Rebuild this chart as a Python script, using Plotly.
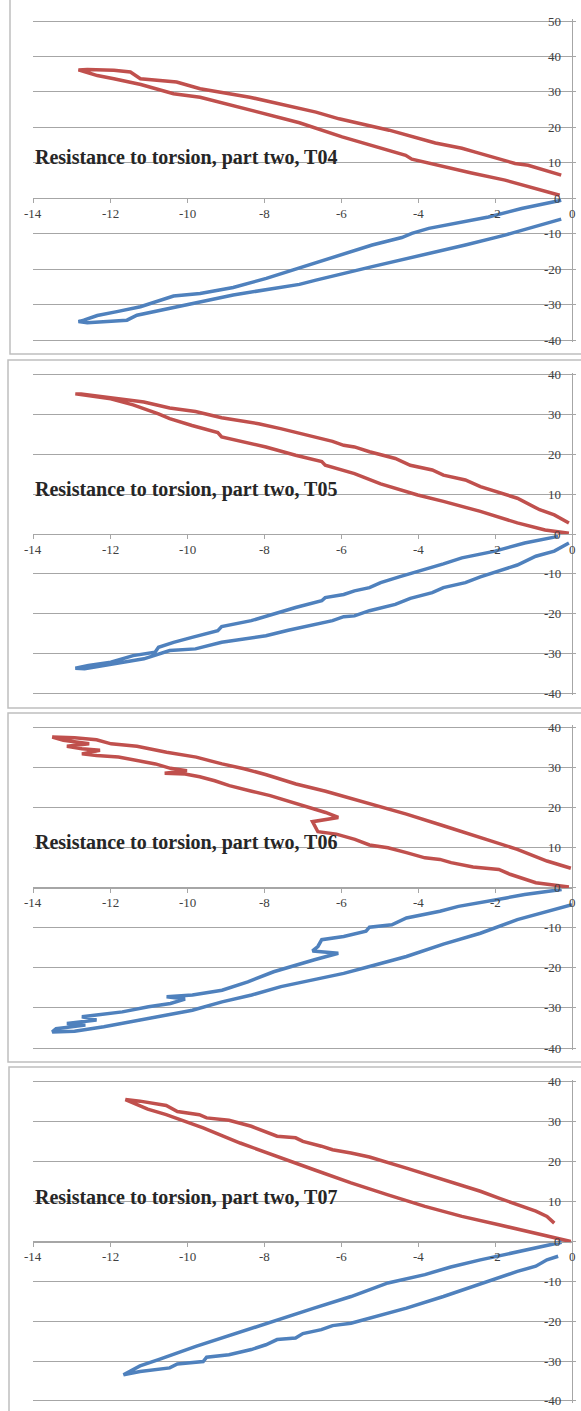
import plotly.graph_objects as go

W, H = 581, 1411

# ---------------- data ----------------
titles = ["Resistance to torsion, part two, T04",
          "Resistance to torsion, part two, T05",
          "Resistance to torsion, part two, T06",
          "Resistance to torsion, part two, T07"]

x_tick_vals = [-14, -12, -10, -8, -6, -4, -2, 0]
x_tick_text = ["-14", "-12", "-10", "-8", "-6", "-4", "-2", "0"]
y_tick_vals_50 = [-40, -30, -20, -10, 0, 10, 20, 30, 40, 50]
y_tick_text_50 = ["-40", "-30", "-20", "-10", "0", "10", "20", "30", "40", "50"]
y_tick_vals_40 = [-40, -30, -20, -10, 0, 10, 20, 30, 40]
y_tick_text_40 = ["-40", "-30", "-20", "-10", "0", "10", "20", "30", "40"]

# T04
t04_red_x = [-0.32, -0.88, -1.74, -2.61, -3.46, -4.16, -4.32, -5.97, -7.08, -8.37, -9.23, -9.66,
             -10.35, -11.2, -11.9, -12.33, -12.63, -12.82,
             -12.59, -11.9, -11.47, -11.21, -10.27, -9.66, -8.37, -7.08, -6.65, -6.05, -5.27,
             -4.75, -3.55, -2.86, -2.51, -1.48, -1.14, -0.28]
t04_red_y = [0.85, 2.5, 5.1, 7.1, 9.3, 11.0, 12.1, 17.3, 21.3, 24.8, 27.1, 28.5,
             29.5, 32.1, 33.7, 34.6, 35.6, 36.2,
             36.3, 36.1, 35.6, 33.7, 32.8, 30.9, 28.5, 25.5, 24.3, 22.4, 20.6,
             19.2, 15.6, 14.1, 13.0, 9.8, 9.3, 6.5]
t04_blue_x = [-0.28, -1.31, -2.17, -3.03, -3.72, -4.16, -4.42, -5.19, -6.05, -6.91, -7.94, -8.80,
              -9.66, -10.35, -10.96, -11.21, -11.82, -12.33, -12.68, -12.82,
              -12.59, -11.56, -11.30, -10.18, -8.80, -7.08, -6.65, -5.19, -3.89, -2.77, -1.74,
              -1.14, -0.28]
t04_blue_y = [-0.56, -2.9, -5.3, -7.1, -8.5, -9.9, -11.1, -13.2, -16.1, -18.9, -22.6, -25.2,
              -26.9, -27.6, -29.7, -30.6, -32.0, -33.1, -34.4, -34.8,
              -35.1, -34.4, -33.0, -30.4, -27.3, -24.3, -23.1, -19.3, -16.1, -13.2, -10.4,
              -8.5, -5.9]

# T05
t05_red_x = [-0.08, -0.7, -1.42, -2.38, -3.34, -4.01, -4.97, -5.65, -6.41, -6.5, -7.18, -7.95,
             -9.1, -9.2, -9.87, -10.45, -10.74, -11.22, -11.4, -11.98, -12.75, -12.9,
             -12.75, -11.89, -11.12, -10.45, -9.78, -9.1, -8.14, -7.57, -6.7, -6.22, -5.93,
             -5.65, -5.26, -4.59, -4.2, -3.63, -3.34, -2.77, -2.38, -1.42, -0.84, -0.46, -0.08]
t05_red_y = [0.2, 1.0, 2.8, 5.7, 8.2, 9.8, 12.6, 15.2, 17.3, 18.2, 19.8, 21.9,
             24.4, 25.5, 27.3, 29.0, 30.2, 31.9, 32.5, 34.0, 35.0, 35.25,
             35.25, 34.2, 33.2, 31.7, 30.8, 29.25, 27.75, 26.5, 24.4, 23.3, 22.3,
             21.9, 20.7, 19.0, 17.3, 16.1, 14.8, 13.6, 11.9, 9.0, 6.1, 4.8, 2.75]
t05_blue_x = [-0.36, -1.23, -2.0, -2.86, -3.34, -4.01, -4.49, -4.97, -5.26, -5.65, -5.93, -6.41,
              -6.5, -7.18, -7.95, -8.33, -9.1, -9.2, -9.87, -10.35, -10.74, -10.83, -11.4,
              -11.98, -12.56, -12.9,
              -12.66, -11.89, -11.12, -10.45, -9.78, -9.1, -7.95, -7.37, -6.7, -6.22, -5.93,
              -5.65, -5.26, -4.59, -4.2, -3.63, -3.34, -2.77, -2.38, -1.42, -0.94, -0.46, -0.08]
t05_blue_y = [-0.6, -2.25, -4.3, -6.0, -7.5, -9.3, -10.8, -12.25, -13.5, -14.3, -15.2, -16.0,
              -16.8, -18.5, -20.6, -21.8, -23.3, -24.3, -26.0, -27.25, -28.5, -29.75, -30.6,
              -32.25, -33.1, -33.75,
              -33.9, -32.6, -31.4, -29.3, -28.9, -27.25, -25.6, -24.2, -22.7, -21.8, -20.8,
              -20.6, -19.3, -17.7, -16.2, -14.75, -13.5, -12.25, -10.8, -7.8, -5.6, -4.3, -2.25]

# T06
t06_red_x = [-0.08, -0.94, -1.61, -1.9, -2.57, -3.14, -3.43, -3.82, -4.3, -4.78, -5.26, -5.64,
             -6.12, -6.6, -6.74, -6.07, -6.4, -6.98, -7.36, -7.84, -8.32, -8.9, -9.28, -9.67,
             -10.05, -10.58, -10.0, -10.43, -10.82, -11.39, -11.78, -12.35, -12.73, -12.26,
             -12.73, -13.12, -12.54, -13.21, -13.5,
             -12.92, -12.35, -11.97, -11.3, -10.53, -9.76, -9.09, -8.52, -7.94, -7.17, -6.4,
             -5.83, -5.26, -4.3, -3.34, -2.38, -1.42, -0.65, -0.03]
t06_red_y = [0.1, 1.2, 3.3, 4.5, 5.1, 6.2, 7.0, 7.4, 8.7, 9.9, 10.6, 12.0,
             13.3, 13.9, 16.4, 17.45, 18.7, 20.4, 21.6, 22.9, 24.0, 25.4, 26.6, 27.6,
             28.3, 28.5, 29.1, 29.7, 30.8, 31.8, 32.5, 32.9, 33.3, 34.2,
             34.6, 35.2, 35.8, 36.7, 37.5,
             37.3, 36.8, 35.8, 35.2, 33.7, 32.5, 30.8, 29.6, 28.1, 25.8, 24.0,
             22.5, 21.0, 18.3, 15.4, 12.4, 9.5, 6.6, 4.8]
t06_blue_x = [-0.27, -1.23, -1.71, -2.38, -2.95, -3.43, -3.82, -4.3, -4.68, -5.26, -5.35, -5.93,
              -6.5, -6.6, -6.74, -6.07, -6.69, -7.17, -7.75, -8.42, -9.09, -9.86, -10.53,
              -10.05, -10.43, -11.0, -11.68, -12.35, -12.73, -12.35, -13.12, -12.64, -13.4, -13.5,
              -12.92, -12.16, -11.49, -10.53, -9.86, -9.09, -8.32, -7.56, -6.69, -5.93, -5.26,
              -4.3, -3.34, -2.38, -1.42, -0.65, 0.0]
t06_blue_y = [-0.5, -1.75, -2.6, -3.8, -4.7, -5.9, -6.6, -7.6, -9.3, -9.9, -10.9, -12.2,
              -13.0, -14.7, -15.8, -16.4, -18.0, -19.3, -21.0, -23.5, -25.6, -26.8, -27.2,
              -27.8, -28.9, -29.7, -31.0, -31.8, -32.2, -33.0, -33.9, -34.3, -35.2, -36.0,
              -35.8, -34.7, -33.5, -31.8, -30.6, -28.5, -26.8, -24.7, -23.0, -21.4, -19.7,
              -17.2, -14.1, -11.4, -8.0, -5.9, -4.3]

# T07
t07_red_x = [-0.03, -0.94, -1.9, -2.86, -3.82, -4.78, -5.74, -6.7, -7.66, -8.62, -9.58, -10.54,
             -11.02, -11.6,
             -11.22, -10.54, -10.25, -9.68, -9.49, -8.91, -8.33, -7.95, -7.66, -7.18, -6.99,
             -6.51, -6.22, -5.74, -5.26, -4.3, -3.34, -2.38, -1.9, -0.94, -0.65, -0.46]
t07_red_y = [0.0, 2.1, 4.2, 6.3, 8.8, 11.7, 14.7, 18.0, 21.4, 24.7, 28.5, 31.8,
             33.2, 35.6,
             35.2, 34.1, 32.6, 31.8, 31.0, 30.4, 28.9, 27.6, 26.4, 26.0, 25.1,
             23.9, 23.0, 22.2, 21.2, 18.4, 15.5, 12.6, 10.9, 7.6, 6.3, 4.6]
t07_blue_x = [-0.27, -1.42, -2.38, -3.15, -3.82, -4.78, -5.74, -6.7, -7.37, -8.14, -9.1, -9.77,
              -10.74, -11.22, -11.65,
              -11.22, -10.45, -10.25, -9.58, -9.49, -8.91, -8.33, -7.95, -7.66, -7.18, -6.99,
              -6.51, -6.22, -5.74, -5.26, -4.3, -3.34, -2.38, -1.42, -0.94, -0.65, -0.36]
t07_blue_y = [-0.2, -2.5, -4.6, -6.4, -8.3, -10.4, -13.8, -16.7, -18.8, -21.3, -24.2, -26.3,
              -29.6, -31.2, -33.4,
              -32.6, -31.7, -30.7, -30.1, -29.0, -28.4, -27.1, -25.9, -24.6, -24.2, -23.1,
              -22.1, -21.1, -20.5, -19.2, -16.7, -13.8, -10.6, -7.5, -6.2, -4.6, -3.7]

# ---------------- layout (pixel geometry) ----------------
RED = "#C0504D"
BLUE = "#4F81BD"
GRID = "#A6A6A6"
AX = "#A6A6A6"
TXT = "#404040"
FONT = "Liberation Serif"

panels = [
    dict(red=(t04_red_x, t04_red_y), blue=(t04_blue_x, t04_blue_y), yr=(-40, 50),
         yt=(y_tick_vals_50, y_tick_text_50), top=21, bot=340, title_y=157,
         box=(10, -10, 354)),
    dict(red=(t05_red_x, t05_red_y), blue=(t05_blue_x, t05_blue_y), yr=(-40, 40),
         yt=(y_tick_vals_40, y_tick_text_40), top=375, bot=693, title_y=489,
         box=(8, 360, 708)),
    dict(red=(t06_red_x, t06_red_y), blue=(t06_blue_x, t06_blue_y), yr=(-40, 40),
         yt=(y_tick_vals_40, y_tick_text_40), top=727, bot=1048, title_y=842,
         box=(8, 713, 1062)),
    dict(red=(t07_red_x, t07_red_y), blue=(t07_blue_x, t07_blue_y), yr=(-40, 40),
         yt=(y_tick_vals_40, y_tick_text_40), top=1082, bot=1401, title_y=1197,
         box=(9, 1067, 1430)),
]

X_LEFT, X_RIGHT = 33, 572
xdom = [X_LEFT / W, X_RIGHT / W]
PAD = 0.6  # small range padding (data units) so edge gridlines are drawn

fig = go.Figure()
layout = dict(width=W, height=H, margin=dict(l=0, r=0, t=0, b=0),
              paper_bgcolor="white", plot_bgcolor="white", showlegend=False,
              shapes=[], annotations=[])

for i, p in enumerate(panels, start=1):
    sfx = "" if i == 1 else str(i)
    xa, ya = "x" + sfx, "y" + sfx
    ymin, ymax = p["yr"]
    k = (p["bot"] - p["top"]) / (ymax - ymin)
    top_px = p["top"] - PAD * k
    bot_px = p["bot"] + PAD * k
    d0 = 1 - bot_px / H
    d1 = 1 - top_px / H
    zero_px = p["top"] + ymax * k
    pos0 = 1 - zero_px / H

    for key, col in (("red", RED), ("blue", BLUE)):
        xs, ys = p[key]
        fig.add_trace(go.Scatter(x=xs, y=ys, mode="lines", xaxis=xa, yaxis=ya,
                                 line=dict(color=col, width=3.5), hoverinfo="skip"))

    layout["xaxis" + sfx] = dict(domain=xdom, range=[-14, 0], anchor="free", position=pos0,
                                 tickvals=x_tick_vals, showticklabels=False,
                                 showgrid=False, zeroline=False, showline=True,
                                 linecolor=AX, linewidth=1, ticks="outside", ticklen=4,
                                 tickcolor=AX)
    layout["yaxis" + sfx] = dict(domain=[d0, d1], range=[ymin - PAD, ymax + PAD], anchor=xa,
                                 side="right", tickvals=p["yt"][0], showticklabels=False,
                                 showgrid=True, gridcolor=GRID, gridwidth=1, zeroline=False,
                                 showline=True, linecolor=AX, linewidth=1,
                                 ticks="outside", ticklen=3, tickcolor=AX)

    # x tick labels (below the axis line at y = 0)
    for v, t in zip(x_tick_vals, x_tick_text):
        layout["annotations"].append(dict(text=t, xref=xa, x=v, yref="paper",
                                          y=1 - (zero_px + 15) / H, xanchor="center",
                                          yanchor="middle", showarrow=False,
                                          font=dict(family=FONT, size=13, color=TXT)))
    # y tick labels (left of the right-hand axis line)
    for v, t in zip(p["yt"][0], p["yt"][1]):
        layout["annotations"].append(dict(text=t, xref="paper", x=(X_RIGHT - 9) / W,
                                          yref=ya, y=v, xanchor="right", yanchor="middle",
                                          showarrow=False,
                                          font=dict(family=FONT, size=13, color=TXT)))

    bx, by0, by1 = p["box"]
    layout["shapes"].append(dict(type="rect", xref="paper", yref="paper",
                                 x0=bx / W, x1=1.05, y0=1 - by1 / H, y1=1 - by0 / H,
                                 line=dict(color="#BFBFBF", width=1.5), layer="below"))
    layout["annotations"].append(dict(text="<b>" + titles[i - 1] + "</b>", xref="paper",
                                      yref="paper", x=X_LEFT / W, y=1 - p["title_y"] / H,
                                      xanchor="left", yanchor="middle", showarrow=False,
                                      font=dict(family=FONT, size=20, color="#262626")))

fig.update_layout(**layout)
fig.write_html("out.html", config={"displayModeBar": False, "responsive": False},
               post_script="document.body.style.margin='0';document.body.style.overflow='hidden';")
